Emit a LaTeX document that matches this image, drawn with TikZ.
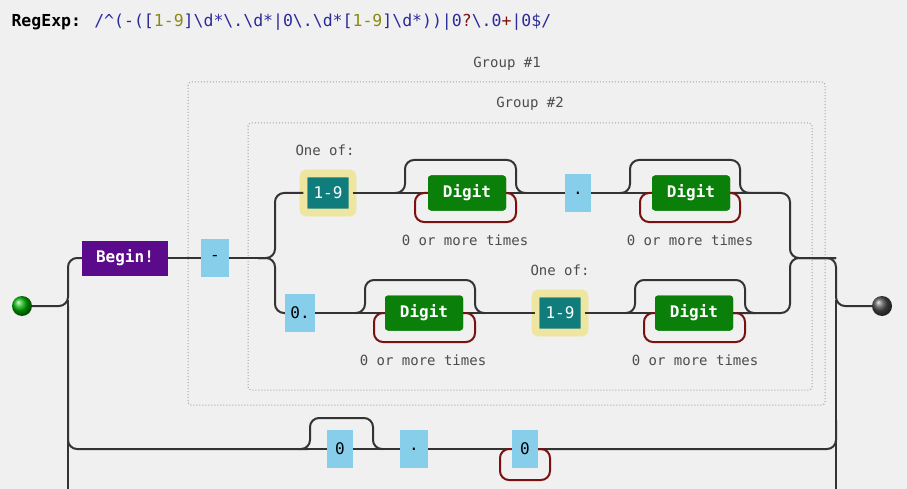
\documentclass[tikz,border=0pt]{standalone}
\usepackage{fontspec}
\setmainfont{DejaVu Sans Mono}
\definecolor{bg}{HTML}{F1F0F0}
\definecolor{lb}{HTML}{87CEEB}
\definecolor{purp}{HTML}{5A0A8A}
\definecolor{grn}{HTML}{0A800A}
\definecolor{teal2}{HTML}{117C7C}
\definecolor{yel}{HTML}{EEE6A0}
\definecolor{rep}{HTML}{7A1010}
\definecolor{navy}{HTML}{2A2A9A}
\definecolor{olv}{HTML}{8A8A10}
\definecolor{line}{HTML}{333333}
\begin{document}
\begin{tikzpicture}[x=1pt,y=-1pt,
  ln/.style={line width=2pt,draw=line,rounded corners=9pt},
  rp/.style={line width=2pt,draw=rep,rounded corners=9pt},
  lit/.style={fill=lb,minimum height=38pt,inner sep=1pt,font=\fontsize{16}{16}\selectfont},
  dig/.style={fill=grn,text=white,rounded corners=3pt,minimum width=78pt,minimum height=35pt,font=\bfseries\fontsize{16}{16}\selectfont},
  cls/.style={fill=teal2,text=white,rounded corners=3pt,minimum width=49pt,minimum height=39pt,font=\fontsize{16}{16}\selectfont,double=yel,double distance=7pt,draw=yel},
  lbl/.style={text=black!70,font=\fontsize{14}{14}\selectfont},
  grp/.style={draw=black!35,dotted,line width=1pt,rounded corners=3pt}]
\useasboundingbox[fill=bg] (0,0) rectangle (907,489);
\node[anchor=west,font=\fontsize{16.5}{16}\selectfont] (t) at (8,22) {\textbf{RegExp:} \textcolor{navy}{/\^{}(-([\textcolor{olv}{1-9}]\textbackslash d*\textbackslash.\textbackslash d*|0\textbackslash.\textbackslash d*[\textcolor{olv}{1-9}]\textbackslash d*))|0\textcolor{rep}{?}\textbackslash.0\textcolor{rep}{+}|0\$/}};
% groups
\draw[grp] (188,82) rectangle (825,405);
\node[lbl] (g1) at (507,64) {Group \#1};
\draw[grp] (248,123) rectangle (812,390);
\node[lbl] (g2) at (530,104) {Group \#2};
% start/end
\shade[ball color=green!70!black] (22,306) circle (10);
\node[circle,minimum size=20pt,inner sep=0] (s) at (22,306) {};
\shade[ball color=black!70] (882,306) circle (10);
\node[circle,minimum size=20pt,inner sep=0] (e) at (882,306) {};
% nodes
\node[fill=purp,text=white,minimum width=86pt,minimum height=35pt,font=\bfseries\fontsize{16}{16}\selectfont] (b) at (125,258) {Begin!};
\node[lit,minimum width=28pt] (m) at (215,258) {-};
\node[lbl] (o1) at (325,150) {One of:};
\node[cls] (c1) at (328,193) {1-9};
\node[dig] (d1) at (467,193) {Digit};
\node[lbl] (l1) at (465,240) {0 or more times};
\node[lit,minimum width=26pt] (p1) at (578,193) {.};
\node[dig] (d2) at (691,193) {Digit};
\node[lbl] (l2) at (690,240) {0 or more times};
\node[lit,minimum width=30pt] (z) at (300,313) {0.};
\node[dig] (d3) at (424,313) {Digit};
\node[lbl] (l3) at (423,360) {0 or more times};
\node[lbl] (o2) at (560,270) {One of:};
\node[cls] (c2) at (560,313) {1-9};
\node[dig] (d4) at (694,313) {Digit};
\node[lbl] (l4) at (695,360) {0 or more times};
\node[lit,minimum width=26pt] (q0) at (340,449) {0};
\node[lit,minimum width=28pt] (qd) at (414,449) {.};
\node[lit,minimum width=26pt] (q1) at (525,449) {0};
% main
\draw[ln] (s.east) -- (68,306) |- (b.west);
\draw[ln] (68,306) |- (308,449);
\draw[ln] (68,300) -- (68,489);
\draw[ln] (b.east) -- (m.west);
\draw[ln] (m.east) -- (258,258);
\draw[ln] (258,258) -- (275,258) |- (c1.west);
\draw[ln] (258,258) -- (275,258) |- (z.west);
\draw[ln] (c1.east) -- (d1.west);
\draw[ln] (d1.east) -- (p1.west);
\draw[ln] (p1.east) -- (d2.west);
\draw[ln] (d2.east) -- (790,193) |- (836,258);
\draw[ln] (z.east) -- (d3.west);
\draw[ln] (d3.east) -- (c2.west);
\draw[ln] (c2.east) -- (d4.west);
\draw[ln] (d4.east) -- (790,313) |- (836,258);
\draw[ln] (812,258) -- (836,258) |- (e.west);
\draw[ln] (836,300) -- (836,489);
\draw[ln] (308,449) -- (q0.west);
\draw[ln] (q0.east) -- (qd.west);
\draw[ln] (qd.east) -- (q1.west);
\draw[ln] (q1.east) -- (836,449) -- (836,420);
% skip loops
\draw[ln] (395,193) -- (405,193) -- (405,160) -- (516,160) -- (516,193) -- (526,193);
\draw[ln] (620,193) -- (630,193) -- (630,160) -- (740,160) -- (740,193) -- (750,193);
\draw[ln] (355,313) -- (365,313) -- (365,280) -- (475,280) -- (475,313) -- (485,313);
\draw[ln] (625,313) -- (635,313) -- (635,280) -- (745,280) -- (745,313) -- (755,313);
\draw[ln] (300,449) -- (310,449) -- (310,418) -- (373,418) -- (373,449) -- (383,449);
% repeat loops
\draw[rp] (d1.east) -- (516,193) -- (516,222) -- (415,222) -- (415,193) -- (d1.west);
\draw[rp] (d2.east) -- (740,193) -- (740,222) -- (640,222) -- (640,193) -- (d2.west);
\draw[rp] (d3.east) -- (475,313) -- (475,342) -- (374,342) -- (374,313) -- (d3.west);
\draw[rp] (d4.east) -- (745,313) -- (745,342) -- (644,342) -- (644,313) -- (d4.west);
\draw[rp] (q1.east) -- (550,449) -- (550,480) -- (500,480) -- (500,449) -- (q1.west);
% redraw nodes on top
\node[dig] at (d1) {Digit};\node[dig] at (d2) {Digit};\node[dig] at (d3) {Digit};\node[dig] at (d4) {Digit};
\node[lit,minimum width=26pt] at (q0) {0};\node[lit,minimum width=26pt] at (q1) {0};
\end{tikzpicture}
\end{document}
